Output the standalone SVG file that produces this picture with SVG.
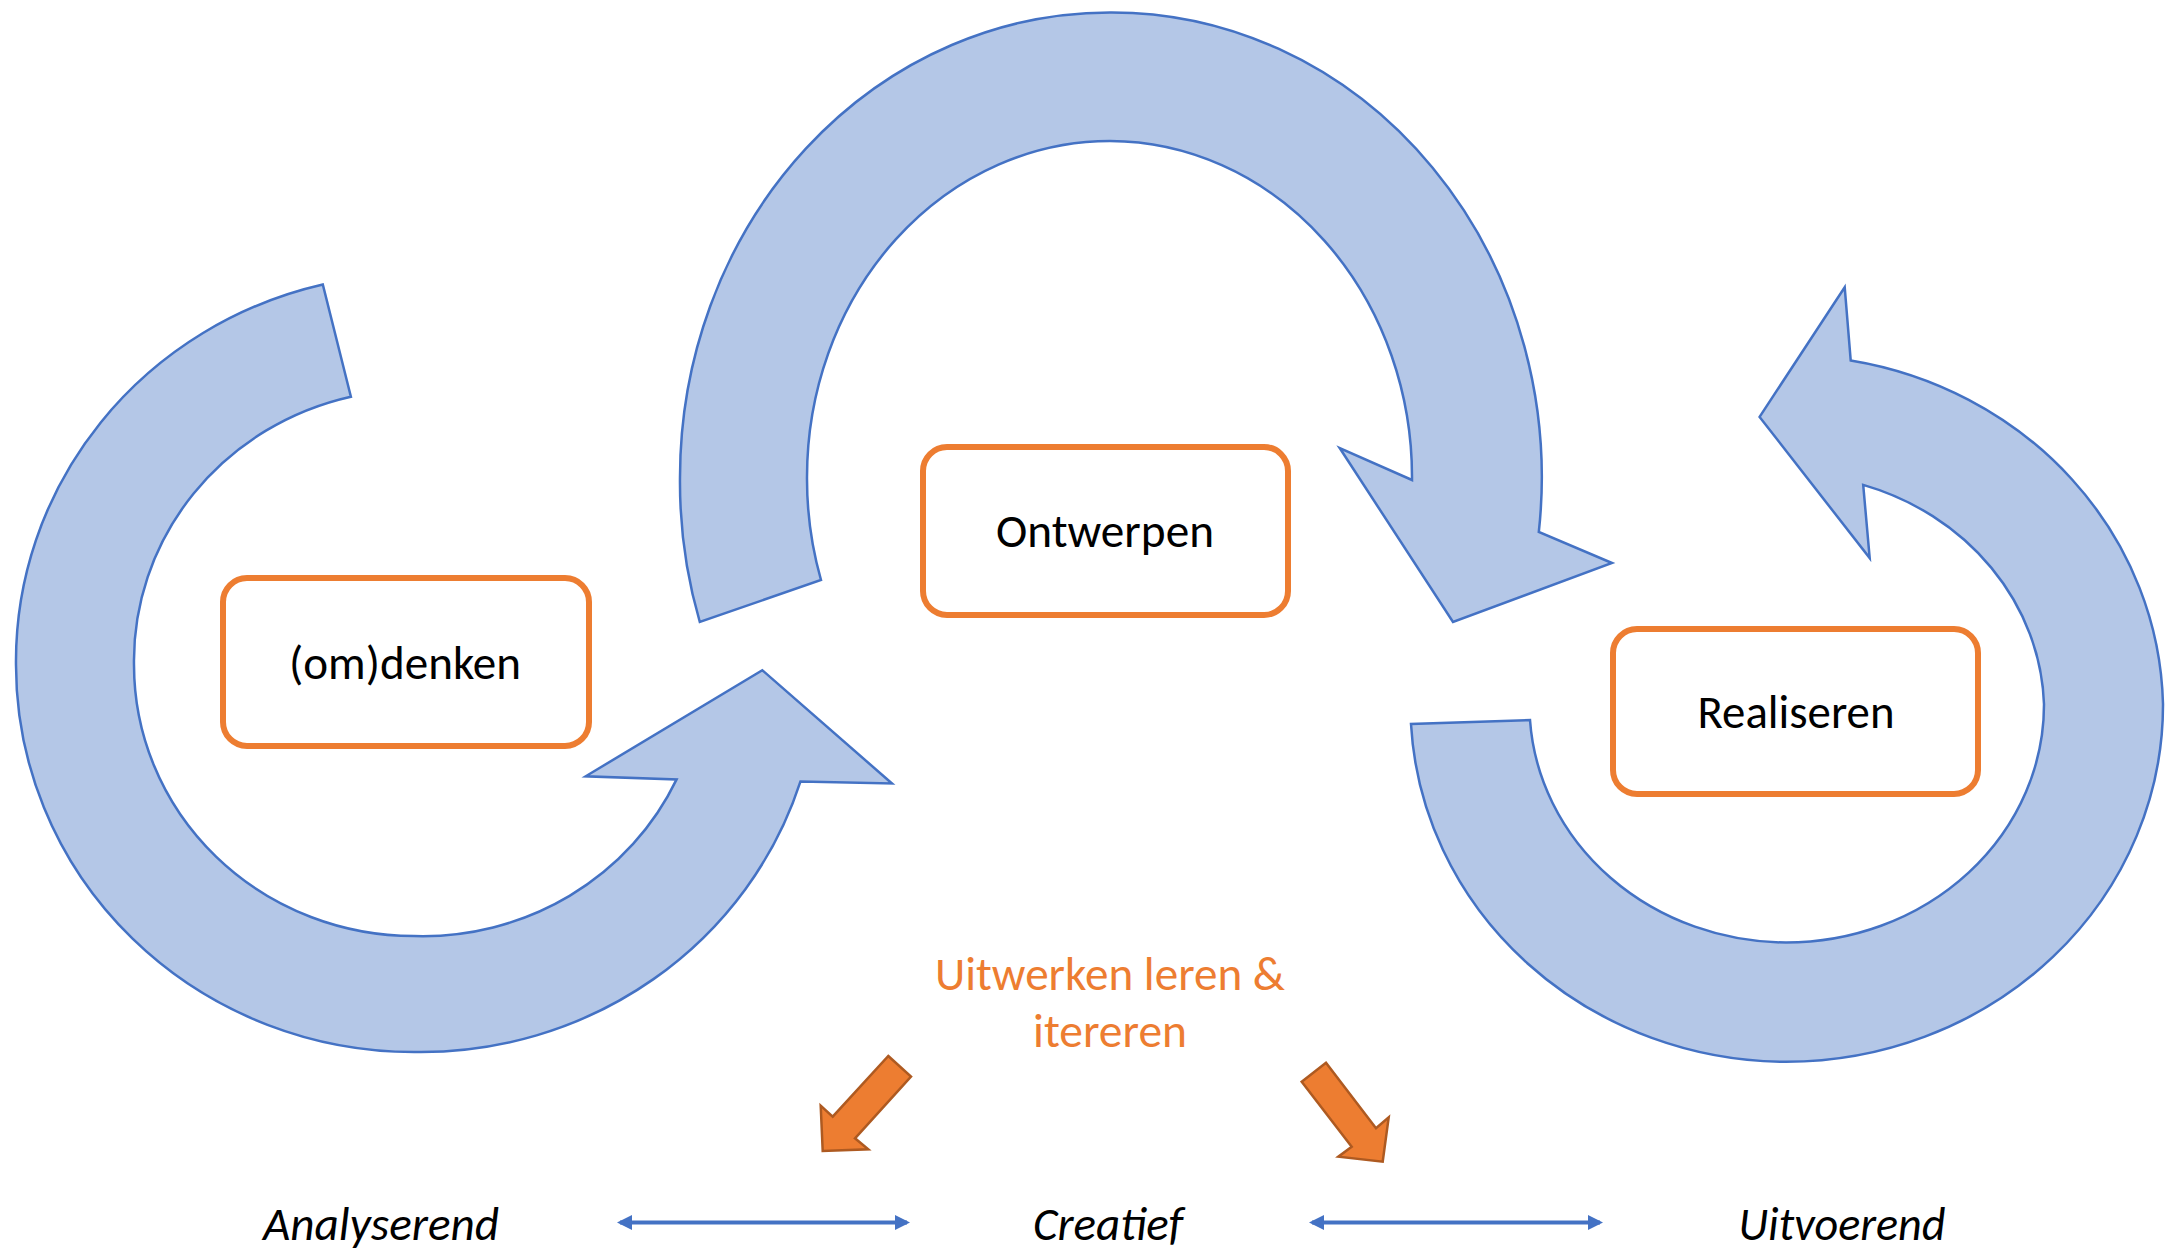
<svg xmlns="http://www.w3.org/2000/svg" width="2165" height="1255" viewBox="0 0 2165 1255">
  <defs>
    <style>
      .cyc { fill: #B4C7E7; stroke: #4472C4; stroke-width: 2.5; stroke-linejoin: miter; }
      .box { fill: #FFFFFF; stroke: #ED7D31; stroke-width: 6; }
      .lbl { font-family: Carlito, Calibri, Lato, "Liberation Sans", sans-serif; font-size: 47px; fill: #000000; text-anchor: middle; }
      .org { font-family: Carlito, Calibri, Lato, "Liberation Sans", sans-serif; font-size: 47px; fill: #ED7D31; text-anchor: middle; }
      .ita { font-family: Carlito, Calibri, Lato, "Liberation Sans", sans-serif; font-size: 47px; font-style: italic; fill: #000000; text-anchor: middle; }
      .oarr { fill: #ED7D31; stroke: #AE5A21; stroke-width: 2.5; stroke-linejoin: miter; }
      .dbl { stroke: #4472C4; stroke-width: 4; fill: none; marker-start: url(#head); marker-end: url(#head); }
    </style>
    <marker id="head" viewBox="0 0 15 15" refX="12" refY="7.5" markerWidth="15" markerHeight="15" markerUnits="userSpaceOnUse" orient="auto-start-reverse">
      <path d="M0,0 L15,7.5 L0,15 Z" fill="#4472C4"/>
    </marker>
  </defs>

  <g id="cycle-arrows">
    <path id="arc-left" class="cyc" d="M322.8,284.5 A398,387 0 0 0 16,665 A398,387 0 0 0 414,1052 A398,387 0 0 0 800.5,781.4 L892,783.5 L762.3,670.2 L585.7,776.3 L676.6,779.4 A280,271 0 0 1 414,936 A280,271 0 0 1 134,665 A280,271 0 0 1 350.9,396.7 Z"/>
    <path id="arc-top" class="cyc" d="M699.8,622 A430,465 0 0 1 680,477 A430,465 0 0 1 1110,12.4 A430,465 0 0 1 1538.8,532 L1612,563 L1453,622 L1339.7,448 L1412,480 A303,336 0 0 0 1110,141 A303,336 0 0 0 807,477 A303,336 0 0 0 821,580 Z"/>
    <path id="arc-right" class="cyc" d="M1411,724 A377,357 0 0 0 1786,1061.8 A377,357 0 0 0 2163,704 A377,357 0 0 0 1850.7,360.4 L1844.7,287.2 L1759.6,416.9 L1869.7,558.1 L1863.2,484.9 A258,238 0 0 1 2044,704 A258,238 0 0 1 1786,942.5 A258,238 0 0 1 1530,720 Z"/>
  </g>

  <g id="node-omdenken">
    <rect class="box" x="223" y="578" width="366" height="168" rx="24"/>
    <text class="lbl" x="405" y="679" textLength="232" lengthAdjust="spacingAndGlyphs">(om)denken</text>
  </g>
  <g id="node-ontwerpen">
    <rect class="box" x="923" y="447" width="365" height="168" rx="24"/>
    <text class="lbl" x="1105" y="547" textLength="218" lengthAdjust="spacingAndGlyphs">Ontwerpen</text>
  </g>
  <g id="node-realiseren">
    <rect class="box" x="1613" y="629" width="365" height="165" rx="24"/>
    <text class="lbl" x="1796" y="728" textLength="197" lengthAdjust="spacingAndGlyphs">Realiseren</text>
  </g>

  <g id="node-uitwerken">
    <text class="org" x="1110" y="990" textLength="350" lengthAdjust="spacingAndGlyphs">Uitwerken leren &amp;</text>
    <text class="org" x="1110" y="1047" textLength="154" lengthAdjust="spacingAndGlyphs">itereren</text>
  </g>

  <g id="node-analyserend">
    <text class="ita" x="381" y="1240" textLength="236" lengthAdjust="spacingAndGlyphs">Analyserend</text>
  </g>
  <g id="node-creatief">
    <text class="ita" x="1108" y="1240" textLength="150" lengthAdjust="spacingAndGlyphs">Creatief</text>
  </g>
  <g id="node-uitvoerend">
    <text class="ita" x="1842" y="1240" textLength="207" lengthAdjust="spacingAndGlyphs">Uitvoerend</text>
  </g>

  <g id="connectors">
    <polygon class="oarr" points="888.3,1056 911,1076.7 855,1138.3 868.3,1149.3 822.7,1151 820.7,1105.7 832.7,1116.7"/>
    <polygon class="oarr" points="1301.7,1081.7 1326,1062.7 1376,1128.3 1388.7,1117.3 1382.7,1161.7 1338.3,1156.7 1351.7,1146.7"/>
    <line class="dbl" x1="620" y1="1222.5" x2="907" y2="1222.5"/>
    <line class="dbl" x1="1312" y1="1222.5" x2="1600" y2="1222.5"/>
  </g>
</svg>
